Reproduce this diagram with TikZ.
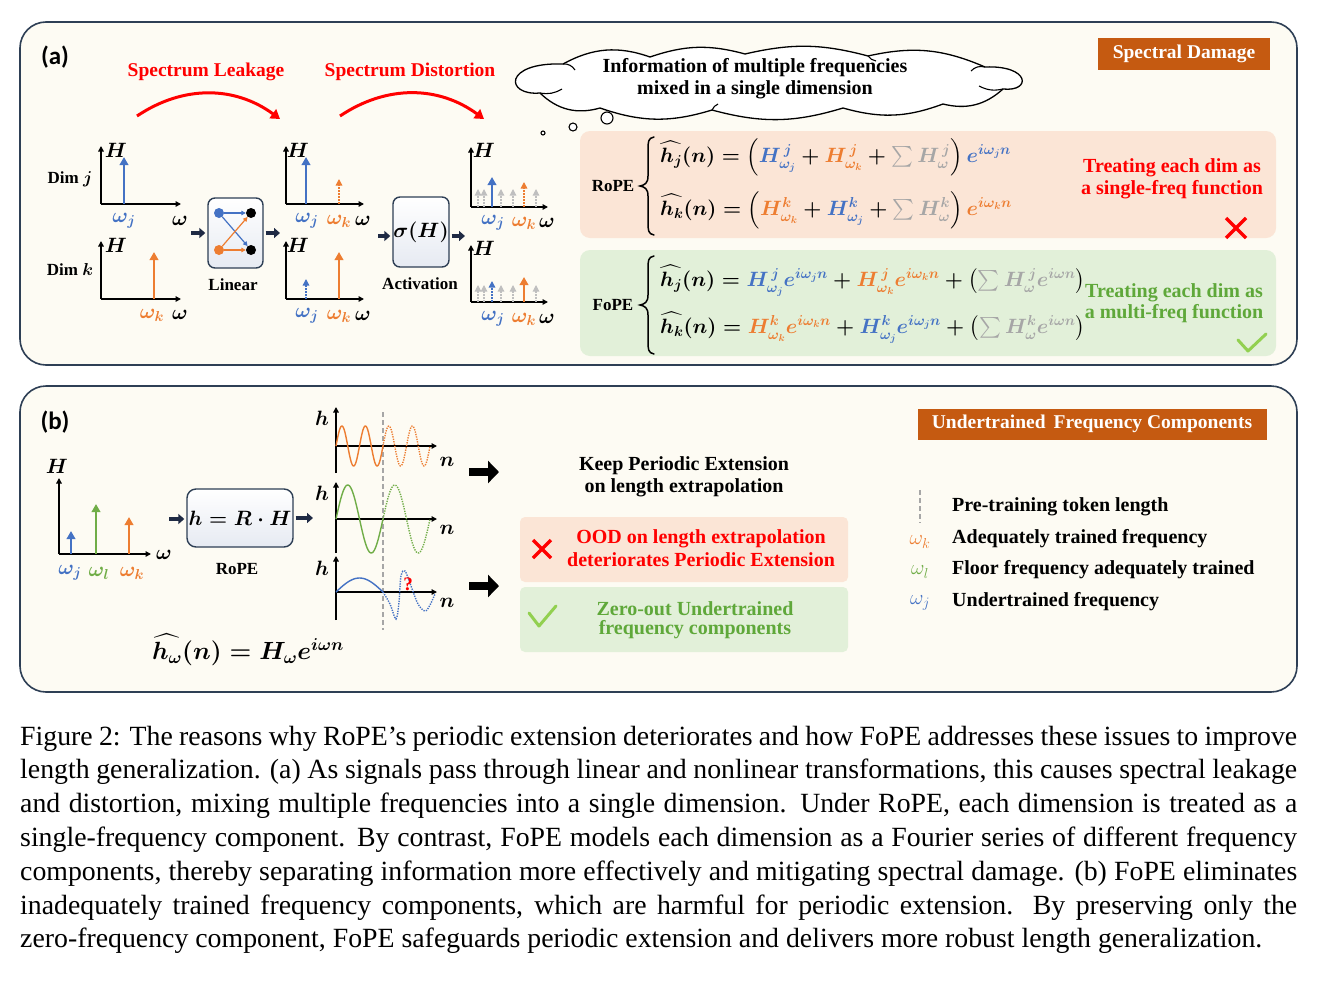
\documentclass[tikz,border=0pt]{standalone}
\usepackage{fontspec}
\usepackage{amsmath}
\usetikzlibrary{arrows.meta,calc}
\newfontfamily\capfont{Liberation Serif}
\newfontfamily\camfont{Liberation Serif}
\newfontfamily\labfont{Carlito}
\definecolor{cB}{HTML}{4472C4}
\definecolor{cO}{HTML}{ED7D31}
\definecolor{cG}{HTML}{70AD47}
\definecolor{cGr}{HTML}{A6A6A6}
\definecolor{cGl}{HTML}{BFBFBF}
\definecolor{cR}{HTML}{FF0000}
\definecolor{myNavy}{HTML}{1F2A44}
\definecolor{panelbg}{HTML}{FDFBF3}
\definecolor{panelbd}{HTML}{2E3F55}
\definecolor{peach}{HTML}{FBE5D6}
\definecolor{mint}{HTML}{E2F0D9}
\definecolor{myBrown}{HTML}{C55A11}
\definecolor{chk}{HTML}{92D050}
\definecolor{boxbot}{HTML}{E6EAF2}
\definecolor{txtG}{HTML}{5FA83A}
\newcommand{\myaxes}[4]{%
  \draw[ax] (#1,#2) -- (#1,#2-#3);
  \draw[ax] (#1,#2) -- (#1+#4,#2);}
\newcommand{\mybrace}[3]{% x, top y, bottom y
  \draw[line width=1.5pt, line cap=round] (#1+6,#2) .. controls (#1,#2+1) and (#1,#2+5) .. (#1,#2+13)
    -- (#1,{(#2+#3)/2-10}) .. controls (#1,{(#2+#3)/2-3}) and (#1-3,{(#2+#3)/2-1}) .. (#1-8,{(#2+#3)/2})
    .. controls (#1-3,{(#2+#3)/2+1}) and (#1,{(#2+#3)/2+3}) .. (#1,{(#2+#3)/2+10})
    -- (#1,#3-13) .. controls (#1,#3-5) and (#1,#3-1) .. (#1+6,#3);}
\tikzset{
  ax/.style={line width=1.5pt, black, -{Triangle[length=5.5pt,width=5.5pt]}},
  sps/.style={draw=#1, line width=2.3pt, -{Triangle[length=8pt,width=8.5pt]}},
  spd/.style={draw=#1, line width=1.4pt, dash pattern=on 1.6pt off 1.4pt, -{Triangle[length=6.5pt,width=6.5pt]}},
  mth/.style={font={\fontsize{19.5}{22}\selectfont\boldmath}},
  eqn/.style={font={\fontsize{20.8}{24}\selectfont\boldmath}, anchor=west, inner sep=1pt},
  lbl/.style={font={\camfont\bfseries\fontsize{17}{20}\selectfont\boldmath}},
  txt/.style={font={\camfont\bfseries\fontsize{20}{22}\selectfont}, inner sep=1pt},
  blk/.style={draw=myNavy, line width=3.5pt, -{Triangle[length=6pt,width=10pt]}},
  bigblk/.style={draw=black, line width=8pt, -{Triangle[length=11pt,width=22pt]}},
  opbox/.style={draw=panelbd, line width=1.4pt, rounded corners=7pt, top color=white, bottom color=boxbot},
  panel/.style={draw=panelbd, line width=1.6pt, rounded corners=26pt, fill=panelbg},
  tag/.style={fill=myBrown, text=white, font={\camfont\bfseries\fontsize{19.5}{22}\selectfont}, inner sep=0pt},
  wavedot/.style={dash pattern=on 1.3pt off 1.2pt},
  capline/.style={anchor=base west, inner sep=0pt, font={\capfont\fontsize{27.8}{32}\selectfont}},
  dot/.style={circle, inner sep=0pt, minimum size=10pt, fill=#1},
  mini/.style={line width=1.2pt, -{Triangle[length=4.5pt,width=4.5pt]}},
  legw/.style={font={\fontsize{22}{24}\selectfont}},
  curl/.style={line width=1.1pt},
}
\begin{document}
\begin{tikzpicture}[x=1pt,y=-1pt]
\useasboundingbox (0,0) rectangle (1338,980);
\fill[white] (0,0) rectangle (1338,980);
% ================= panel (a)
\draw[panel] (20,22) rectangle (1297,365);
\node[font={\labfont\bfseries\fontsize{25}{28}\selectfont}] (la) at (55,57) {(a)};
\node[txt, text=cR, font={\camfont\bfseries\fontsize{19.5}{22}\selectfont}] (sl) at (206,72) {Spectrum Leakage};
\node[txt, text=cR, font={\camfont\bfseries\fontsize{19.5}{22}\selectfont}] (sdt) at (410,72) {Spectrum Distortion};
\coordinate (a1s) at (137,116); \coordinate (a1e) at (280,119);
\coordinate (a2s) at (340,116); \coordinate (a2e) at (484,119);
\draw[cR, line width=3pt, -{Triangle[length=9pt,width=11pt]}] (a1s) to[bend left=35] (a1e);
\draw[cR, line width=3pt, -{Triangle[length=9pt,width=11pt]}] (a2s) to[bend left=35] (a2e);
% cloud
\coordinate (cA) at (563,64); \coordinate (cK) at (650,57); \coordinate (cJ) at (745,54);
\coordinate (cI) at (868,56); \coordinate (cH) at (985,67); \coordinate (cGg) at (1003,89);
\coordinate (cF) at (943,104); \coordinate (cE) at (843,108); \coordinate (cD) at (712,110);
\coordinate (cC) at (600,108); \coordinate (cBb) at (540,93);
\draw[line width=1.3pt, fill=white]
  (cBb) .. controls (505,96) and (503,62) .. (cA)
  to[bend left=24] (cK) to[bend left=17] (cJ) to[bend left=14] (cI) to[bend left=18] (cH)
  .. controls (1030,65) and (1032,92) .. (cGg)
  to[bend left=28] (cF) to[bend left=18] (cE) to[bend left=16] (cD) to[bend left=18] (cC)
  to[bend left=30] (cBb) -- cycle;
\draw[curl] (cA) to[bend left=30] ++(12,6);
\draw[curl] (cH) to[bend right=30] ++(-14,4);
\draw[curl] (cBb) to[bend right=20] ++(22,-4);
\draw[curl] (cGg) to[bend left=20] ++(-24,-3);
\draw[curl] (cD) to[bend left=20] ++(6,-6);
\draw[curl] (cI) to[bend right=20] ++(8,5);
\node[txt] (c1) at (755,68) {Information of multiple frequencies};
\node[txt] (c2) at (755,90) {mixed in a single dimension};
\node[circle, draw, line width=1.1pt, fill=white, inner sep=0pt, minimum size=4pt] (bb1) at (543,133) {};
\node[circle, draw, line width=1.1pt, fill=white, inner sep=0pt, minimum size=8pt] (bb2) at (573,127) {};
\node[circle, draw, line width=1.1pt, fill=white, inner sep=0pt, minimum size=12pt] (bb3) at (607,118) {};
\node[tag, minimum width=172pt, minimum height=32pt] (t1) at (1184,54) {Spectral Damage};
% Dim j
\node[lbl] (dj) at (70,179) {Dim $j$};
\myaxes{101}{204}{58}{80}
\draw[sps=cB] (124,204) -- (124,157);
\node[mth] (hj1) at (116,150) {$H$};
\node[mth, text=cB] (wj1) at (124,221) {$\omega_j$};
\node[mth] (w1) at (180,221) {$\omega$};
% Dim k
\node[lbl] (dk) at (70,270) {Dim $k$};
\myaxes{101}{299}{58}{80}
\draw[sps=cO] (154,299) -- (154,252);
\node[mth] (hk1) at (116,245) {$H$};
\node[mth, text=cO] (wk1) at (152,315) {$\omega_k$};
\node[mth] (w2) at (180,315) {$\omega$};
% Linear box
\node[opbox, minimum width=55pt, minimum height=70pt] (lin) at (235.5,233) {};
\node[dot=cB] (d1) at (219,213) {};
\node[dot=cO] (d2) at (219,250) {};
\node[dot=black] (d3) at (251,213) {};
\node[dot=black] (d4) at (251,250) {};
\draw[mini, cB] (d1) -- (d3);
\draw[mini, cB] (d1) -- (d4);
\draw[mini, cO] (d2) -- (d3);
\draw[mini, cO] (d2) -- (d4);
\node[lbl] (linl) at (233,285) {Linear};
\coordinate (b1s) at (191,233);
\draw[blk] (b1s) -- ([xshift=-2pt]lin.west);
\coordinate (b2e) at (280,233);
\draw[blk] ([xshift=2pt]lin.east) -- (b2e);
% middle plots
\myaxes{286}{204}{58}{78}
\draw[sps=cB] (306,204) -- (306,157);
\draw[spd=cO] (339,204) -- (339,179);
\node[mth] (h2) at (298,150) {$H$};
\node[mth, text=cB] (wj2) at (307,221) {$\omega_j$};
\node[mth, text=cO] (wk2) at (339,221) {$\omega_k$};
\node[mth] (w3) at (363,221) {$\omega$};
\myaxes{286}{299}{58}{78}
\draw[spd=cB] (306,299) -- (306,279);
\draw[sps=cO] (339,299) -- (339,252);
\node[mth] (h3) at (298,245) {$H$};
\node[mth, text=cB] (wj3) at (307,316) {$\omega_j$};
\node[mth, text=cO] (wk3) at (339,316) {$\omega_k$};
\node[mth] (w4) at (363,316) {$\omega$};
% activation
\node[opbox, minimum width=56pt, minimum height=70pt] (act) at (421,232) {};
\node[font={\fontsize{21}{24}\selectfont\boldmath}] (sig) at (421,232) {$\sigma(H)$};
\node[lbl] (actl) at (420,284) {Activation};
\coordinate (b3s) at (378,236);
\draw[blk] (b3s) -- ([xshift=-2pt]act.west |- b3s);
\coordinate (b4e) at (465,236);
\draw[blk] ([xshift=2pt]act.east |- b4e) -- (b4e);
% right plots
\myaxes{471}{207}{60}{77}
\foreach \gx in {478,484,501,513,536} {\draw[spd=cGl, line width=1.2pt] (\gx,207) -- (\gx,189);}
\draw[sps=cB] (492,207) -- (492,177);
\draw[spd=cO] (524,207) -- (524,182);
\node[mth] (h4) at (484,150) {$H$};
\node[mth, text=cB] (wj4) at (493,223) {$\omega_j$};
\node[mth, text=cO] (wk4) at (524,223) {$\omega_k$};
\node[mth] (w5) at (547,223) {$\omega$};
\myaxes{471}{302}{57}{77}
\foreach \gx in {478,484,501,513,536} {\draw[spd=cGl, line width=1.2pt] (\gx,302) -- (\gx,285);}
\draw[spd=cB] (492,302) -- (492,281);
\draw[sps=cO] (524,302) -- (524,277);
\node[mth] (h5) at (484,248) {$H$};
\node[mth, text=cB] (wj5) at (493,319) {$\omega_j$};
\node[mth, text=cO] (wk5) at (524,319) {$\omega_k$};
\node[mth] (w6) at (547,319) {$\omega$};
% equation boxes
\fill[peach, rounded corners=10pt] (580,131) rectangle (1276,238);
\fill[mint, rounded corners=10pt] (580,250) rectangle (1276,356);
\node[lbl] (rp) at (613,186) {RoPE};
\mybrace{648}{137}{235}
\node[eqn] (e1) at (659,157) {$\widehat{h_j}(n) = \left(\textcolor{cB}{H^{\,j}_{\omega_j}} + \textcolor{cO}{H^{\,j}_{\omega_k}} + \textcolor{cGr}{\textstyle\sum H^{\,j}_{\omega}}\right)\textcolor{cB}{e^{i\omega_j n}}$};
\node[eqn] (e2) at (659,210) {$\widehat{h_k}(n) = \left(\textcolor{cO}{H^{k}_{\omega_k}} + \textcolor{cB}{H^{k}_{\omega_j}} + \textcolor{cGr}{\textstyle\sum H^{k}_{\omega}}\right)\textcolor{cO}{e^{i\omega_k n}}$};
\node[txt, text=cR] (tr1) at (1172,168) {Treating each dim as};
\node[txt, text=cR] (tr2) at (1172,190) {a single-freq function};
\coordinate (x1a) at (1226,218); \coordinate (x1b) at (1246,238);
\coordinate (x1c) at (1246,218); \coordinate (x1d) at (1226,238);
\draw[cR, line width=3.5pt] (x1a) -- (x1b) (x1c) -- (x1d);
\node[lbl] (fp) at (613,305) {FoPE};
\mybrace{648}{256}{354}
\node[eqn] (e3) at (659,281) {$\widehat{h_j}(n) = \textcolor{cB}{H^{\,j}_{\omega_j}e^{i\omega_j n}} + \textcolor{cO}{H^{\,j}_{\omega_k}e^{i\omega_k n}} + \left(\textcolor{cGr}{\textstyle\sum H^{\,j}_{\omega}e^{i\omega n}}\right)$};
\node[eqn] (e4) at (659,328) {$\widehat{h_k}(n) = \textcolor{cO}{H^{k}_{\omega_k}e^{i\omega_k n}} + \textcolor{cB}{H^{k}_{\omega_j}e^{i\omega_j n}} + \left(\textcolor{cGr}{\textstyle\sum H^{k}_{\omega}e^{i\omega n}}\right)$};
\node[txt, text=txtG] (tg1) at (1174,293) {Treating each dim as};
\node[txt, text=txtG] (tg2) at (1174,314) {a multi-freq function};
\coordinate (k1a) at (1238,340); \coordinate (k1b) at (1248,351); \coordinate (k1c) at (1266,334);
\draw[chk, line width=3pt, line cap=round, line join=round] (k1a) -- (k1b) -- (k1c);
% ================= panel (b)
\draw[panel] (20,386) rectangle (1297,692);
\node[font={\labfont\bfseries\fontsize{25}{28}\selectfont}] (lb) at (55,422) {(b)};
\node[mth] (hb) at (57,466) {$H$};
\myaxes{59}{554}{76}{92}
\draw[sps=cB] (71,554) -- (71,531);
\draw[sps=cG] (96,554) -- (96,504);
\draw[sps=cO] (129,554) -- (129,517);
\node[mth, text=cB] (wjb) at (70,573) {$\omega_j$};
\node[mth, text=cG] (wlb) at (99,573) {$\omega_l$};
\node[mth, text=cO] (wkb) at (132,573) {$\omega_k$};
\node[mth] (wb) at (164,555) {$\omega$};
\node[opbox, minimum width=106pt, minimum height=58pt, rounded corners=9pt] (rbox) at (240,518) {};
\node[font={\fontsize{21}{24}\selectfont\boldmath}] (rtx) at (240,518) {$h = R\cdot H$};
\coordinate (b5s) at (169,519);
\draw[blk] (b5s) -- ([xshift=-2pt]rbox.west |- b5s);
\coordinate (b6e) at (313,518);
\draw[blk] ([xshift=2pt]rbox.east) -- (b6e);
\node[lbl] (rpb) at (237,569) {RoPE};
\node[font={\fontsize{24.5}{27}\selectfont\boldmath}] (fh) at (248,650) {$\widehat{h_\omega}(n) = H_\omega e^{i\omega n}$};
% waves
\draw[cGr, line width=1.3pt, dash pattern=on 5pt off 3pt] (383,412) -- (383,630);
% top
\draw[ax] (336,473) -- (336,407);
\draw[ax] (336,446) -- (437,446);
\draw[cO, line width=1.4pt, domain=0:47, samples=90, smooth, variable=\t] plot ({336+\t},{446-20*sin(15.3191*\t)});
\draw[cO, line width=1.4pt, wavedot, domain=47:94, samples=90, smooth, variable=\t] plot ({336+\t},{446-20*sin(15.3191*\t)});
\node[mth] (hw1) at (322,418) {$h$};
\node[mth] (nw1) at (447,462) {$n$};
% middle
\draw[ax] (336,553) -- (336,482);
\draw[ax] (336,519) -- (437,519);
\draw[cG, line width=1.4pt, domain=0:47, samples=60, smooth, variable=\t] plot ({336+\t},{519-34*sin(7.6596*\t)});
\draw[cG, line width=1.4pt, wavedot, domain=47:94, samples=60, smooth, variable=\t] plot ({336+\t},{519-34*sin(7.6596*\t)});
\node[mth] (hw2) at (322,493) {$h$};
\node[mth] (nw2) at (447,530) {$n$};
% bottom
\draw[ax] (336,620) -- (336,556);
\draw[ax] (336,592) -- (437,592);
\draw[cB, line width=1.4pt, domain=0:47, samples=40, smooth, variable=\t] plot ({336+\t},{592-14*sin(3.8298*\t)});
\draw[cB, line width=1.4pt, wavedot] plot[smooth, tension=0.55] coordinates {(383,592) (390,604) (396,619) (399,602) (401,576) (405,571) (411,586) (418,604) (425,611) (430,605) (435,594)};
\node[text=cR, font={\camfont\bfseries\fontsize{19}{21}\selectfont}] (qm) at (408,584) {?};
\node[mth] (hw3) at (322,568) {$h$};
\node[mth] (nw3) at (447,603) {$n$};
\coordinate (g1s) at (469,472); \coordinate (g1e) at (499,472);
\coordinate (g2s) at (469,586); \coordinate (g2e) at (499,586);
\draw[bigblk] (g1s) -- (g1e);
\draw[bigblk] (g2s) -- (g2e);
% middle texts
\node[txt] (kp1) at (684,466) {Keep Periodic Extension};
\node[txt] (kp2) at (684,488) {on length extrapolation};
\fill[peach, rounded corners=5pt] (520,517) rectangle (848,582);
\fill[mint, rounded corners=5pt] (520,587) rectangle (848,652);
\coordinate (x2a) at (533,540); \coordinate (x2b) at (551,558);
\coordinate (x2c) at (551,540); \coordinate (x2d) at (533,558);
\draw[cR, line width=3.3pt] (x2a) -- (x2b) (x2c) -- (x2d);
\node[txt, text=cR] (od1) at (701,539) {OOD on length extrapolation};
\node[txt, text=cR] (od2) at (701,560) {deteriorates Periodic Extension};
\coordinate (k2a) at (529,613); \coordinate (k2b) at (539,626); \coordinate (k2c) at (556,606);
\draw[chk, line width=3pt, line cap=round, line join=round] (k2a) -- (k2b) -- (k2c);
\node[txt, text=txtG] (zo1) at (695,609) {Zero-out Undertrained};
\node[txt, text=txtG] (zo2) at (695,630) {frequency components};
% legend
\node[tag, minimum width=349pt, minimum height=31pt] (t2) at (1092,424) {Undertrained\, Frequency Components};
\draw[cGr, line width=2pt, dash pattern=on 5pt off 3pt] (920,490) -- (920,523);
\node[txt, anchor=west] (lg1) at (951,507) {Pre-training token length};
\node[legw, text=cO] (lw1) at (920,542) {$\omega_k$};
\node[txt, anchor=west] (lg2) at (951,539) {Adequately trained frequency};
\node[legw, text=cG] (lw2) at (920,572) {$\omega_l$};
\node[txt, anchor=west] (lg3) at (951,570) {Floor frequency adequately trained};
\node[legw, text=cB] (lw3) at (920,603) {$\omega_j$};
\node[txt, anchor=west] (lg4) at (951,602) {Undertrained frequency};
% ================= caption
\node[capline] (cp1) at (20,745) {\makebox[1277pt][s]{Figure 2: The reasons why RoPE’s periodic extension deteriorates and how FoPE addresses these issues to improve}};
\node[capline] (cp2) at (20,778.8) {\makebox[1277pt][s]{length generalization. (a) As signals pass through linear and nonlinear transformations, this causes spectral leakage}};
\node[capline] (cp3) at (20,812.6) {\makebox[1277pt][s]{and distortion, mixing multiple frequencies into a single dimension. Under RoPE, each dimension is treated as a}};
\node[capline] (cp4) at (20,846.4) {\makebox[1277pt][s]{single-frequency component. By contrast, FoPE models each dimension as a Fourier series of different frequency}};
\node[capline] (cp5) at (20,880.2) {\makebox[1277pt][s]{components, thereby separating information more effectively and mitigating spectral damage. (b) FoPE eliminates}};
\node[capline] (cp6) at (20,914) {\makebox[1277pt][s]{inadequately trained frequency components, which are harmful for periodic extension. By preserving only the}};
\node[capline] (cp7) at (20,947.8) {zero-frequency component, FoPE safeguards periodic extension and delivers more robust length generalization.};
\end{tikzpicture}
\end{document}
